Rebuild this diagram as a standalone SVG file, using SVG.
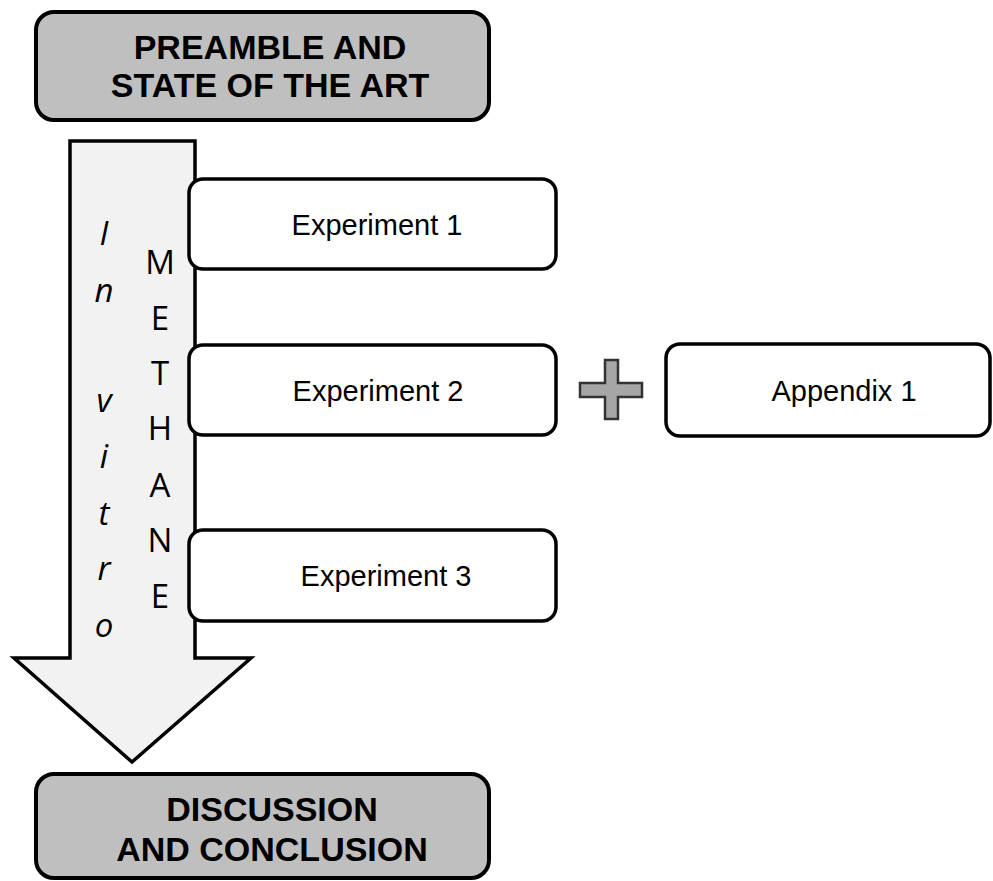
<svg xmlns="http://www.w3.org/2000/svg" width="993" height="881" viewBox="0 0 993 881">
  <style>
    .head { fill: #bfbfbf; stroke: #000; stroke-width: 4; }
    .box { fill: #fff; stroke: #000; stroke-width: 3.5; }
    .headtxt { font-family: "Liberation Sans", Arial, sans-serif; font-weight: bold; font-size: 34px; fill: #000; text-anchor: middle; }
    .boxtxt { font-family: "Liberation Sans", Arial, sans-serif; font-size: 29px; fill: #000; text-anchor: middle; }
    .vert { font-family: "Open Sans", "Noto Sans", sans-serif; font-size: 33px; fill: #000; text-anchor: middle; }
    .ital { font-style: italic; }
  </style>
  <rect width="993" height="881" fill="#fff"/>

  <!-- big downward arrow spanning the experimental chapters -->
  <g id="arrow">
    <polygon points="70,141 195,141 195,658 251,658 132,762 14,658 70,658" fill="#f2f2f2" stroke="#000" stroke-width="3.5" stroke-linejoin="miter"/>
    <g class="vert ital">
      <text x="104" y="245">I</text>
      <text x="104" y="302">n</text>
      <text x="104" y="412">v</text>
      <text x="104" y="468">i</text>
      <text x="104" y="525">t</text>
      <text x="104" y="580">r</text>
      <text x="104" y="637">o</text>
    </g>
    <g class="vert">
      <text x="160" y="274">M</text>
      <text x="160" y="330">E</text>
      <text x="160" y="385">T</text>
      <text x="160" y="440">H</text>
      <text x="160" y="497">A</text>
      <text x="160" y="552">N</text>
      <text x="160" y="608">E</text>
    </g>
  </g>

  <g id="preamble">
    <rect class="head" x="36" y="12" width="453" height="108" rx="18"/>
    <text class="headtxt" x="270" y="59">PREAMBLE AND</text>
    <text class="headtxt" x="270" y="97">STATE OF THE ART</text>
  </g>

  <g id="experiment1">
    <rect class="box" x="189" y="179" width="367" height="90" rx="14"/>
    <text class="boxtxt" x="377" y="235">Experiment 1</text>
  </g>

  <g id="experiment2">
    <rect class="box" x="189" y="345" width="367" height="90" rx="14"/>
    <text class="boxtxt" x="378" y="401">Experiment 2</text>
  </g>

  <g id="experiment3">
    <rect class="box" x="189" y="530" width="367" height="91" rx="14"/>
    <text class="boxtxt" x="386" y="586">Experiment 3</text>
  </g>

  <g id="connectors">
    <!-- plus sign joining Experiment 2 and Appendix 1 -->
    <polygon points="605,360 618,360 618,383 642,383 642,397 618,397 618,419 605,419 605,397 580,397 580,383 605,383" fill="#a6a6a6" stroke="#333" stroke-width="2.5"/>
  </g>

  <g id="appendix1">
    <rect class="box" x="666" y="344" width="324" height="92" rx="14"/>
    <text class="boxtxt" x="844" y="401">Appendix 1</text>
  </g>

  <g id="discussion">
    <rect class="head" x="36" y="774" width="453" height="104" rx="18"/>
    <text class="headtxt" x="272" y="821">DISCUSSION</text>
    <text class="headtxt" x="272" y="861">AND CONCLUSION</text>
  </g>
</svg>
